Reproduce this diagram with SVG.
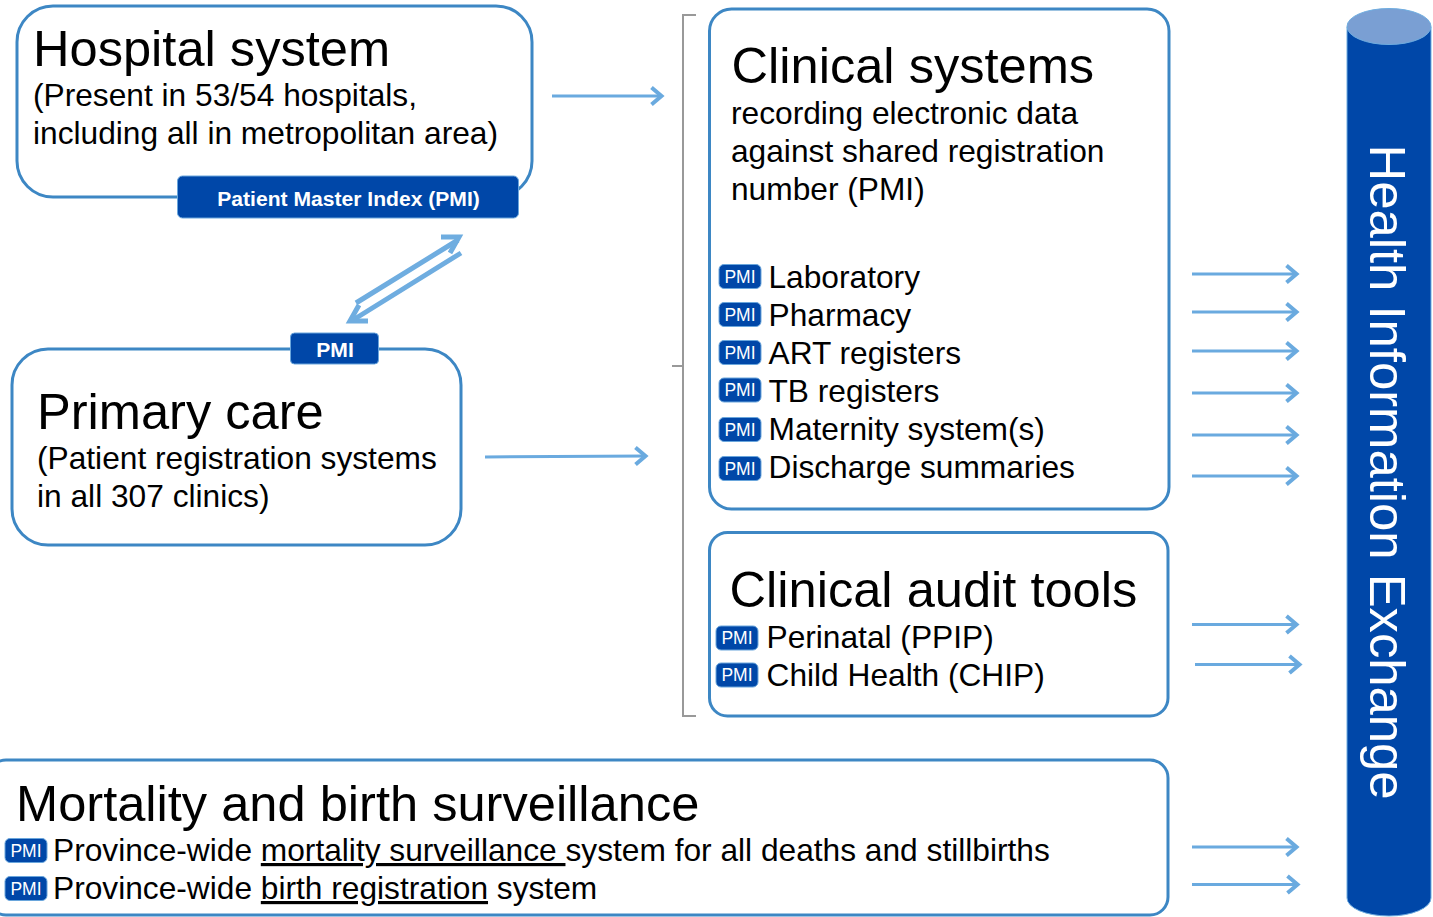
<svg xmlns="http://www.w3.org/2000/svg" width="1433" height="917" viewBox="0 0 1433 917">
<style>
text{font-family:"Liberation Sans",Arial,sans-serif;fill:#000}
.box{fill:#fff;stroke:#3d87c4;stroke-width:3}
.t{font-size:50.6px}
.s{font-size:31.7px}
.tag{fill:#0047a8;stroke:#6aa6dc;stroke-width:1}
.tl{fill:#fff;font-size:17.5px;text-anchor:middle}
.bl{fill:#fff;font-weight:bold;font-size:21.1px;text-anchor:middle}
.a{fill:none;stroke:#6aaadf;stroke-width:3;marker-end:url(#h)}
</style>
<defs>
<marker id="h" markerUnits="userSpaceOnUse" markerWidth="24" markerHeight="24" refX="19" refY="12" orient="auto"><path d="M8.500 3.500L18.500 12L8.500 20.500" fill="none" stroke="#6aaadf" stroke-width="4"/></marker>
<g id="pmi"><rect class="tag" x="0" y="0" width="42" height="24" rx="5"/><text class="tl" x="21" y="18">PMI</text></g>
</defs>
<g id="connectors">
<path class="a" d="M552 96H662"/>
<path class="a" d="M485 457L646 456"/>
<path class="a" d="M1192 274H1297"/>
<path class="a" d="M1192 312H1297"/>
<path class="a" d="M1192 351H1297"/>
<path class="a" d="M1192 393H1297"/>
<path class="a" d="M1192 435H1297"/>
<path class="a" d="M1192 476H1297"/>
<path class="a" d="M1192 624.500H1297"/>
<path class="a" d="M1195 664.500H1300"/>
<path class="a" d="M1192 847H1297"/>
<path class="a" d="M1192 884.500H1298"/>
<path d="M356 303L458 240M461 253L353 320" fill="none" stroke="#6fade0" stroke-width="5"/>
<path d="M441 237H459L450 253M368 321H350L359 305" fill="none" stroke="#6fade0" stroke-width="5"/>
</g>
<g id="bracket"><path d="M696 15H683V366H672M683 366V716H696" fill="none" stroke="#999" stroke-width="2"/></g>
<g id="hospital">
<rect class="box" x="17" y="6" width="515" height="191" rx="36"/>
<text class="t" x="33" y="66">Hospital system</text>
<text class="s" x="33" y="106">(Present in 53/54 hospitals,</text>
<text class="s" x="33" y="144">including all in metropolitan area)</text>
<rect class="tag" x="177.500" y="176" width="341" height="42" rx="5"/>
<text class="bl" x="348.500" y="206">Patient Master Index (PMI)</text>
</g>
<g id="primary">
<rect class="box" x="12" y="349" width="449" height="196" rx="36"/>
<text class="t" x="37" y="429">Primary care</text>
<text class="s" x="37" y="469">(Patient registration systems</text>
<text class="s" x="37" y="507">in all 307 clinics)</text>
<rect class="tag" x="290.500" y="333" width="88" height="31" rx="4"/>
<text class="bl" x="335" y="357">PMI</text>
</g>
<g id="clinical">
<rect class="box" x="709.500" y="9" width="459.500" height="500" rx="22"/>
<text class="t" x="731.500" y="83">Clinical systems</text>
<text class="s" x="731" y="123.500">recording electronic data</text>
<text class="s" x="731" y="161.500">against shared registration</text>
<text class="s" x="731" y="199.500">number (PMI)</text>
<use href="#pmi" x="719" y="264.500"/><text class="s" x="768.500" y="288">Laboratory</text>
<use href="#pmi" x="719" y="302.500"/><text class="s" x="768.500" y="326">Pharmacy</text>
<use href="#pmi" x="719" y="340.500"/><text class="s" x="768.500" y="364">ART registers</text>
<use href="#pmi" x="719" y="378"/><text class="s" x="768.500" y="402">TB registers</text>
<use href="#pmi" x="719" y="417.500"/><text class="s" x="768.500" y="440">Maternity system(s)</text>
<use href="#pmi" x="719" y="456.500"/><text class="s" x="768.500" y="478">Discharge summaries</text>
</g>
<g id="audit">
<rect class="box" x="709.500" y="532.500" width="458.500" height="183.500" rx="18"/>
<text class="t" x="729.500" y="607">Clinical audit tools</text>
<use href="#pmi" x="716" y="626"/><text class="s" x="766.500" y="647.500">Perinatal (PPIP)</text>
<use href="#pmi" x="716" y="663"/><text class="s" x="766.500" y="685.500">Child Health (CHIP)</text>
</g>
<g id="mortality">
<rect class="box" x="-12" y="760" width="1180" height="155" rx="18"/>
<text class="t" x="16" y="820.500">Mortality and birth surveillance</text>
<use href="#pmi" x="5" y="838.500"/><text class="s" x="53" y="861">Province-wide <tspan text-decoration="underline">mortality surveillance </tspan>system for all deaths and stillbirths</text>
<use href="#pmi" x="5" y="876.500"/><text class="s" x="53" y="899">Province-wide <tspan text-decoration="underline">birth registration</tspan> system</text>
</g>
<g id="hie">
<path d="M1347 27V898A42 18 0 0 0 1431 898V27Z" fill="#0047a8" stroke="#6fade0" stroke-width="1"/>
<ellipse cx="1389" cy="26.500" rx="42" ry="18" fill="#7a9fd3" stroke="#6fade0" stroke-width="1"/>
<text transform="translate(1370 144.500) rotate(90)" font-size="50.800" style="fill:#fff">Health Information Exchange</text>
</g>
</svg>
